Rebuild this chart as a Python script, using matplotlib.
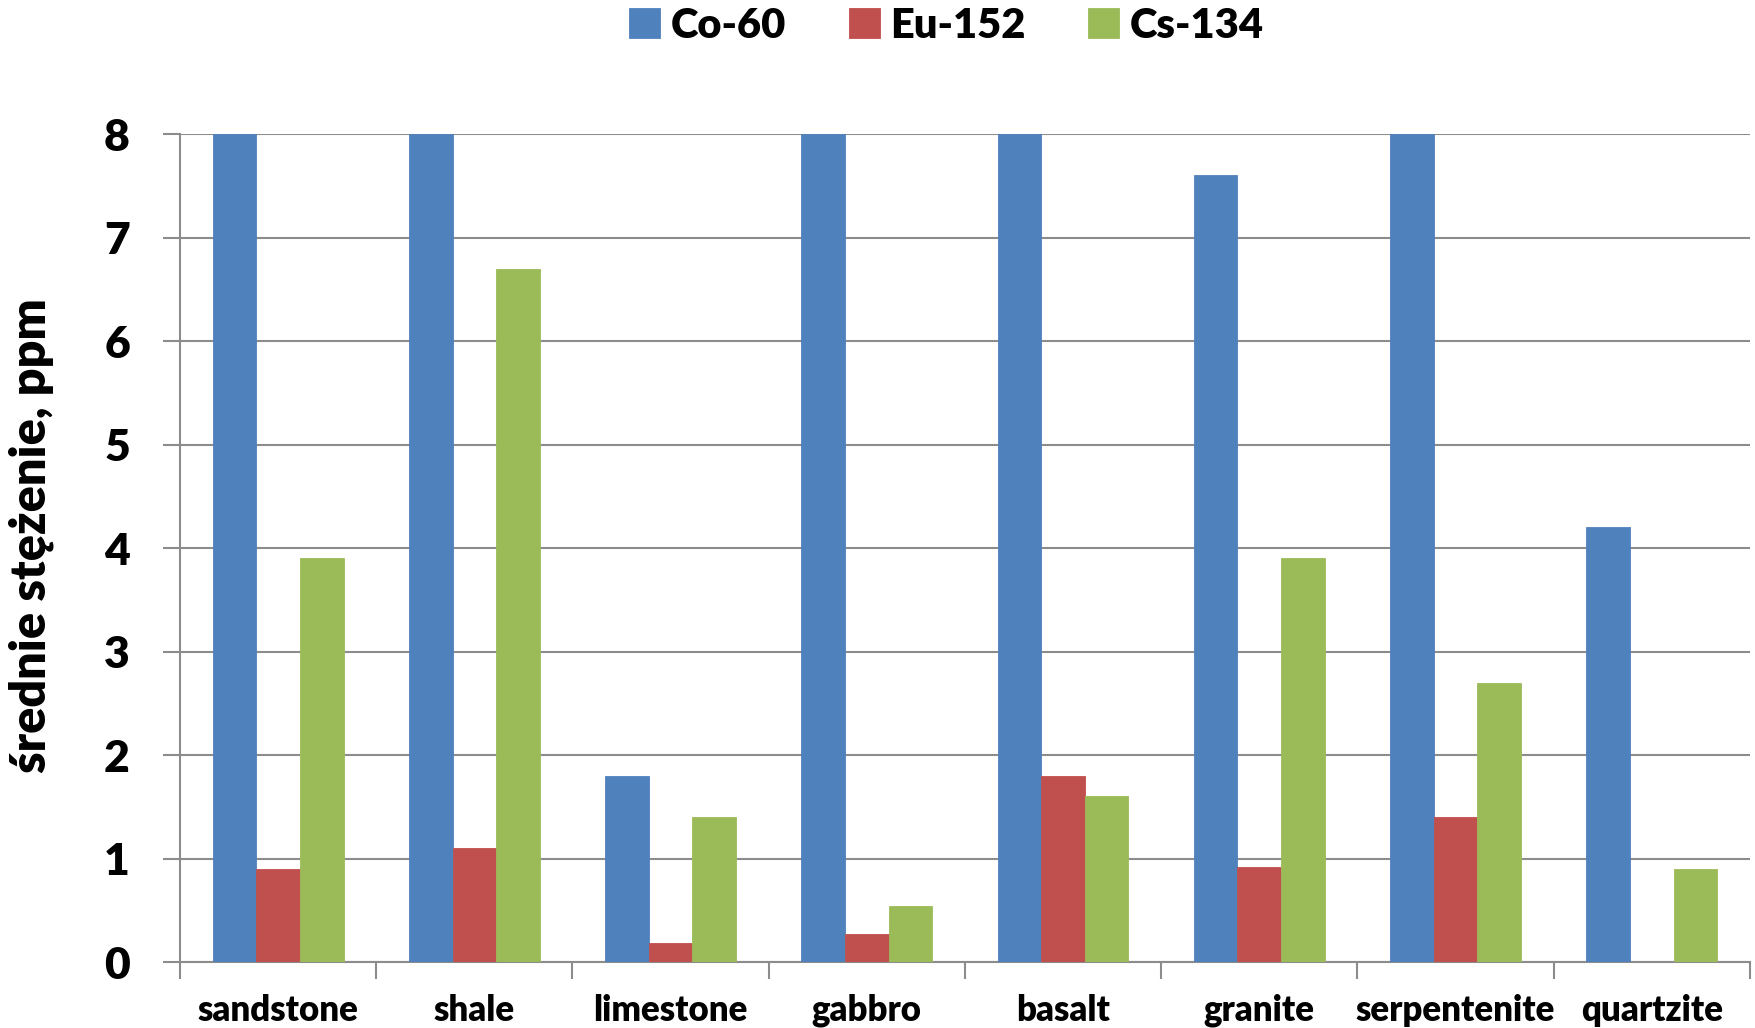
import matplotlib
matplotlib.use("Agg")
import matplotlib.pyplot as plt
import numpy as np

plt.rcParams['font.family'] = ['Lato', 'DejaVu Sans']
plt.rcParams['font.weight'] = 'heavy'

categories = ["sandstone", "shale", "limestone", "gabbro", "basalt",
              "granite", "serpentenite", "quartzite"]
series_names = ["Co-60", "Eu-152", "Cs-134"]
# Co-60 values that run past the top of the scale are drawn at the axis maximum
co60 = [8.0, 8.0, 1.8, 8.0, 8.0, 7.6, 8.0, 4.2]
eu152 = [0.9, 1.1, 0.18, 0.27, 1.8, 0.92, 1.4, 0.0]
cs134 = [3.9, 6.7, 1.4, 0.54, 1.6, 3.9, 2.7, 0.9]
y_ticks = [0, 1, 2, 3, 4, 5, 6, 7, 8]
colors = ["#4F81BD", "#C0504D", "#9BBB59"]
grid_color = "#8C8C8C"
W = 'heavy'

fig = plt.figure(figsize=(17.56, 10.28), dpi=100)
ax = fig.add_axes([0.1025, 0.0642, 0.8940, 0.8054])

x = np.arange(len(categories))
width = 1.0 / 4.5
for i, (vals, col, name) in enumerate(zip([co60, eu152, cs134], colors, series_names)):
    ax.bar(x + (i - 1) * width, vals, width=width, color=col, label=name,
           edgecolor=col, linewidth=0.6, zorder=3)

ax.set_xlim(-0.5, len(categories) - 0.5)
ax.set_ylim(0, 8)
ax.set_yticks(y_ticks)
ax.set_yticklabels([str(t) for t in y_ticks], fontsize=32, fontweight=W)
ax.yaxis.grid(True, color=grid_color, linewidth=1.5, zorder=0)
ax.set_axisbelow(True)

# category boundaries carry the tick marks, centres carry the labels
ax.set_xticks(np.arange(len(categories) + 1) - 0.5)
ax.set_xticklabels([])
ax.set_xticks(x, minor=True)
ax.set_xticklabels(categories, minor=True, fontsize=25, fontweight=W)
ax.tick_params(axis='x', which='major', length=12, width=1.5, color=grid_color)
ax.tick_params(axis='x', which='minor', length=0, pad=23)
ax.tick_params(axis='y', length=12, width=1.5, color=grid_color, pad=24)

for side in ['top', 'right']:
    ax.spines[side].set_visible(False)
for side in ['left', 'bottom']:
    ax.spines[side].set_color(grid_color)
    ax.spines[side].set_linewidth(1.5)

ax.set_ylabel("średnie stężenie, ppm", fontsize=35, fontweight=W)
ax.yaxis.set_label_coords(-0.080, 0.515)

fig.legend(loc='center', bbox_to_anchor=(0.539, 0.975), ncol=3, frameon=False,
           prop={'weight': W, 'size': 30}, handlelength=0.75,
           handleheight=0.75, handletextpad=0.25, columnspacing=1.5)

fig.savefig("out.png", dpi=100)
